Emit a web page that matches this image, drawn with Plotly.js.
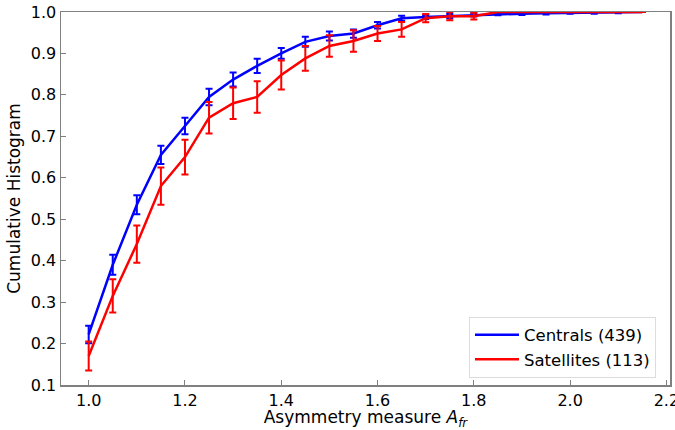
<!DOCTYPE html>
<html><head><meta charset="utf-8">
<script src="https://cdn.plot.ly/plotly-3.0.1.min.js"></script>
<style>html,body{margin:0;padding:0;background:#fff}#chart{width:675px;height:430px}</style>
</head><body><div id="chart"></div>
<script>
var asym = [1.0,1.05,1.1,1.15,1.2,1.25,1.3,1.35,1.4,1.45,1.5,1.55,1.6,1.65,1.7,1.75,1.8,1.85,1.9,1.95,2.0,2.05,2.1,2.15];
var centrals = [0.222,0.39,0.535,0.655,0.725,0.795,0.837,0.87,0.90,0.928,0.942,0.948,0.968,0.985,0.988,0.99,0.993,0.995,0.996,0.997,0.998,0.998,0.999,1.0];
var centralsErr = [0.021,0.024,0.023,0.022,0.02,0.02,0.017,0.017,0.013,0.012,0.011,0.01,0.008,0.006,0.005,0.005,0.004,0.003,0.003,0.003,0.002,0.002,0.002,0];
var satellites = [0.17,0.315,0.44,0.58,0.65,0.745,0.78,0.795,0.848,0.888,0.918,0.93,0.948,0.958,0.985,0.99,0.99,1,1,1,1,1,1,1];
var satellitesErr = [0.035,0.04,0.045,0.045,0.042,0.038,0.038,0.038,0.035,0.03,0.026,0.026,0.018,0.018,0.01,0.01,0.008,0,0,0,0,0,0,0];
var names = ['Centrals (439)','Satellites (113)'];
var xTicks = [1.0,1.2,1.4,1.6,1.8,2.0,2.2];
var yTicks = [0.1,0.2,0.3,0.4,0.5,0.6,0.7,0.8,0.9,1.0];

var traces = [
 {x: asym, y: centrals, name: names[0], mode:'lines', type:'scatter',
  line:{color:'#0000ff', width:2.5},
  error_y:{type:'data', array: centralsErr, visible:true, color:'#0000ff', thickness:2, width:3.5}},
 {x: asym, y: satellites, name: names[1], mode:'lines', type:'scatter',
  line:{color:'#ff0000', width:2.5},
  error_y:{type:'data', array: satellitesErr, visible:true, color:'#ff0000', thickness:2, width:3.5}}
];
var fam = 'DejaVu Sans, sans-serif';
var layout = {
  width:675, height:430,
  margin:{l:61, r:5, t:12, b:45},
  paper_bgcolor:'#fff', plot_bgcolor:'#fff',
  font: {family:fam, size:16, color:'#000'},
  showlegend:true,
  legend:{x:0.977, y:0.02, xanchor:'right', yanchor:'bottom', bgcolor:'#fff', bordercolor:'#dcdcdc', borderwidth:1,
    itemwidth:44, font:{family:fam, size:16.5}},
  xaxis:{range:[0.9425,2.2075], tickvals:xTicks, tickformat:'.1f', ticklabeloverflow:'allow',
    ticks:'inside', ticklen:5, tickcolor:'#808080', showline:true, linecolor:'#808080', linewidth:1.5, mirror:true,
    showgrid:false, zeroline:false,
    title:{text:'Asymmetry measure <i>A</i><sub><i>fr</i></sub>', font:{family:fam, size:17}, standoff:2}},
  yaxis:{range:[0.1,1.0], tickvals:yTicks, tickformat:'.1f',
    ticks:'inside', ticklen:5, tickcolor:'#808080', showline:true, linecolor:'#808080', linewidth:1.5, mirror:true,
    showgrid:false, zeroline:false,
    title:{text:'Cumulative Histogram', font:{family:fam, size:17}, standoff:6}}
};
Plotly.newPlot('chart', traces, layout, {displayModeBar:false, staticPlot:true});
</script>
</body></html>
